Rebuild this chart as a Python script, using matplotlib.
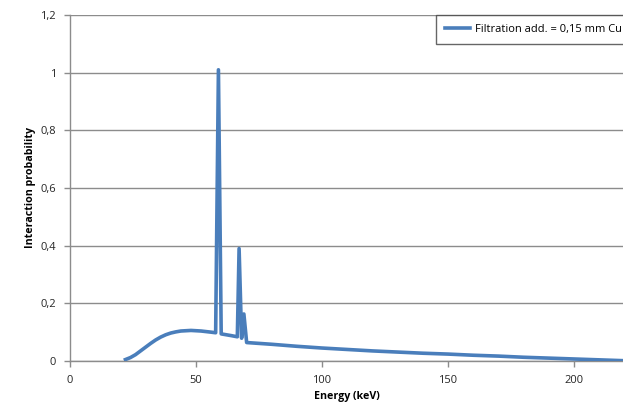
import matplotlib
matplotlib.use("Agg")
import matplotlib.pyplot as plt
from matplotlib.ticker import FuncFormatter

energy = [22, 24, 26, 28, 30, 32, 34, 36, 38, 40, 42, 44, 46, 48, 50, 52, 54, 56,
          57.8, 58.9, 60.0, 62, 64, 66.4, 67.1, 68.1, 69.0, 70.1,
          80, 90, 100, 110, 120, 130, 140, 150, 160, 170, 180, 190, 200, 210, 220]
prob = [0.005, 0.012, 0.022, 0.035, 0.048, 0.061, 0.073, 0.083, 0.091, 0.097, 0.101,
        0.104, 0.105, 0.106, 0.105, 0.104, 0.102, 0.100,
        0.098, 1.01, 0.094, 0.091, 0.088, 0.084, 0.39, 0.079, 0.163, 0.064,
        0.058, 0.051, 0.045, 0.040, 0.035, 0.031, 0.027, 0.024, 0.020, 0.017,
        0.013, 0.010, 0.007, 0.004, 0.001]
series_label = "Filtration add. = 0,15 mm Cu"
x_ticks = [0, 50, 100, 150, 200]
y_ticks = [0, 0.2, 0.4, 0.6, 0.8, 1.0, 1.2]

plt.rcParams['font.family'] = ['Open Sans', 'DejaVu Sans']

fig = plt.figure(figsize=(6.23, 4.03), dpi=100)
W, H = 623, 403
ax = fig.add_axes([70 / W, (H - 361) / H, (W - 70) / W, (361 - 15) / H])

line, = ax.plot(energy, prob, color="#4a7ebb", lw=2.6, solid_joinstyle="round",
                label=series_label, zorder=3)

ax.set_xlim(0, (W - 70) / 2.52)
ax.set_ylim(0, 1.2)
ax.set_xticks(x_ticks)
ax.set_yticks(y_ticks)

def fmt(v, pos):
    s = ("%g" % round(v, 2))
    return s.replace(".", ",")

ax.yaxis.set_major_formatter(FuncFormatter(fmt))
ax.xaxis.set_major_formatter(FuncFormatter(fmt))

ax.grid(axis="y", color="#8c8c8c", lw=1.0, zorder=0)
for side in ["top", "right"]:
    ax.spines[side].set_visible(False)
for side in ["left", "bottom"]:
    ax.spines[side].set_color("#8c8c8c")
    ax.spines[side].set_linewidth(1.0)
ax.tick_params(axis="both", colors="#8c8c8c", labelcolor="#262626", labelsize=8,
               length=4, width=1.0)
ax.tick_params(axis="y", pad=6)
ax.tick_params(axis="x", pad=6)

ax.set_ylabel("Interaction probability", fontsize=7.7, fontweight="bold", labelpad=3)
ax.set_xlabel("Energy (keV)", fontsize=7.7, fontweight="bold", labelpad=3.5)

leg = fig.legend(handles=[line], loc="upper left",
                 bbox_to_anchor=(436 / W, 1 - 15 / H), frameon=True,
                 fancybox=False, fontsize=8, handlelength=2.3, handletextpad=0.4,
                 borderpad=0.8, borderaxespad=0)
leg.get_frame().set_edgecolor("#404040")
leg.get_frame().set_linewidth(1.0)

fig.savefig("out.png", dpi=100)
